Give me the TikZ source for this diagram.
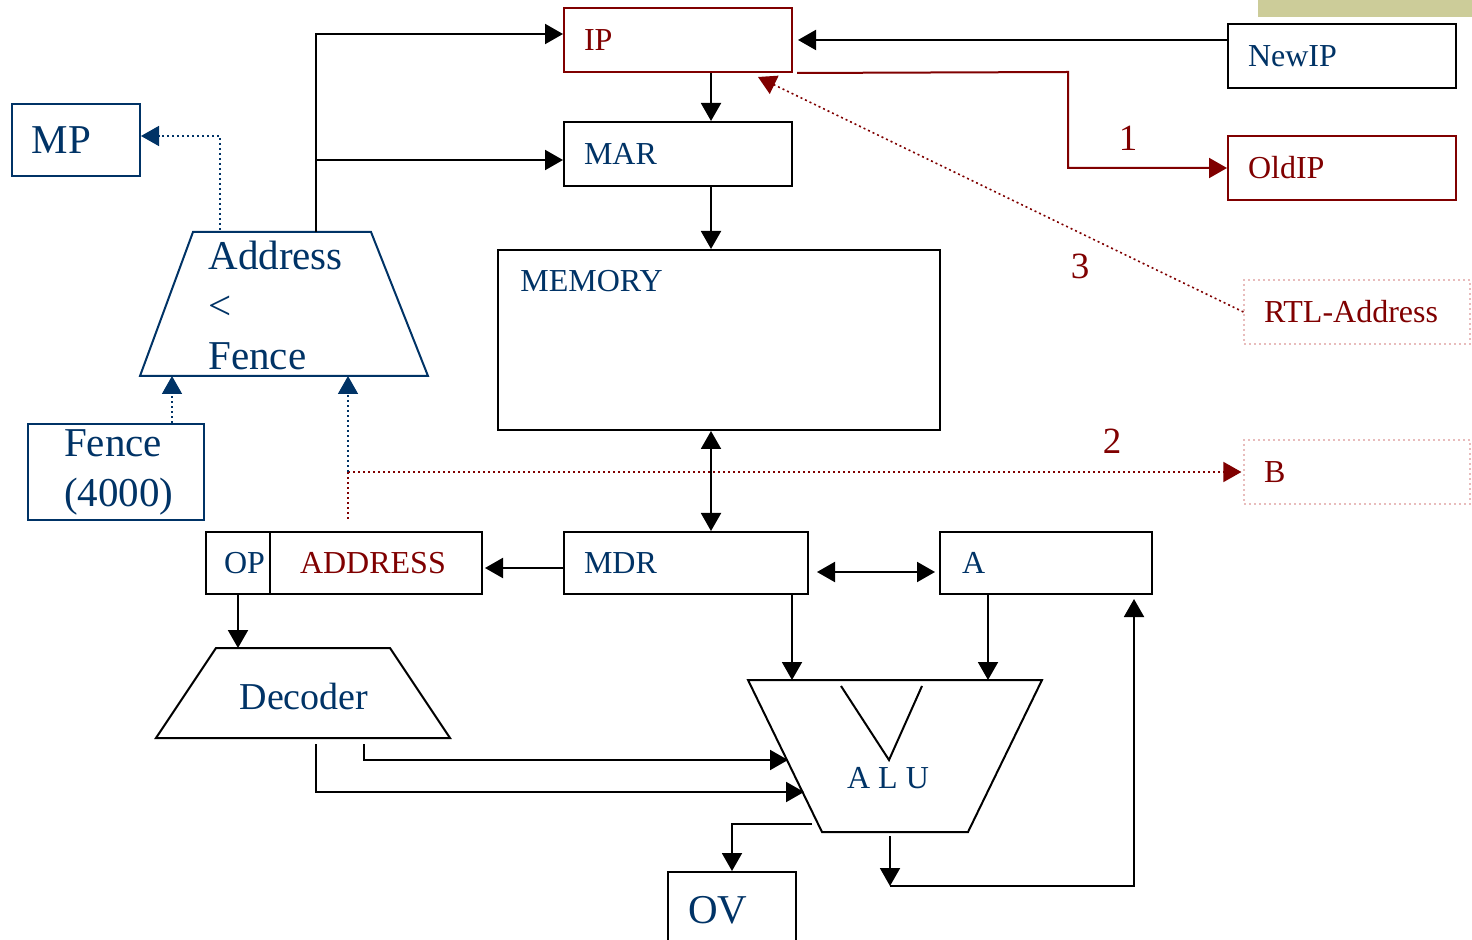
\documentclass[tikz,border=0pt]{standalone}
\usepackage{fontspec}
\setmainfont{Liberation Serif}
\usetikzlibrary{arrows.meta,positioning}

\definecolor{regblue}{RGB}{0,51,102}
\definecolor{ipred}{RGB}{128,0,0}
\definecolor{pinkdot}{RGB}{232,188,188}
\definecolor{barolive}{RGB}{204,204,153}

\newcommand{\regfont}{\fontsize{16}{19}\selectfont}
\newcommand{\decfont}{\fontsize{19}{23}\selectfont}
\newcommand{\bigfont}{\fontsize{20.5}{25}\selectfont}
\newcommand{\numfont}{\fontsize{18.5}{22}\selectfont}

\begin{document}
\begin{tikzpicture}[x=0.5pt, y=-0.5pt,
  reg/.style={draw, line width=1pt, rectangle, inner xsep=10pt, inner ysep=0pt,
              align=left, minimum height=32pt, font=\regfont, text=regblue},
  redreg/.style={reg, draw=ipred, text=ipred},
  bluereg/.style={reg, draw=regblue, font=\bigfont},
  tagbox/.style={reg, draw=pinkdot, line width=0.6pt, dash pattern=on 1pt off 1.5pt, text=ipred},
  lbl/.style={inner sep=0pt, font=\regfont, text=regblue},
  unit/.style={draw, line width=1pt, line join=miter},
  arr/.style={-{Triangle[length=9pt,width=10pt]}, line width=1pt},
  darr/.style={{Triangle[length=9pt,width=10pt]}-{Triangle[length=9pt,width=10pt]}, line width=1pt},
  redarr/.style={arr, draw=ipred},
  bdot/.style={-{Triangle[length=9pt,width=10pt]}, draw=regblue, line width=0.8pt, dash pattern=on 1pt off 1.5pt},
  rdot/.style={draw=ipred, line width=0.8pt, dash pattern=on 1pt off 1.5pt},
  num/.style={font=\numfont, text=ipred, inner sep=0pt},
]
\useasboundingbox (0,0) rectangle (1472,940);
\clip (0,0) rectangle (1472,940);
\fill[white] (0,0) rectangle (1472,940);
\fill[barolive] (1258,0) rectangle (1472,17);

%% ── REGISTERS (top) ──────────────────────────────────────────────────────────
\node[redreg, text width=94pt] (ip)    at (678,40)   {IP};
\node[reg,    text width=94pt] (mar)   at (678,154)  {MAR};
\node[reg,    text width=94pt] (newip) at (1342,56)  {NewIP};
\node[redreg, text width=94pt] (oldip) at (1342,168) {OldIP};
\node[tagbox, text width=93pt] (rtl)   at (1357,312) {RTL-Address};
\node[tagbox, text width=93pt] (bbox)  at (1357,472) {B};

%% ── MEMORY ───────────────────────────────────────────────────────────────────
\node[draw, line width=1pt, minimum width=221pt, minimum height=90pt] (mem) at (719,340) {};
\node[lbl, anchor=north west] (memtxt) at (520,270) {MEMORY};

%% ── REGISTERS (bottom) ───────────────────────────────────────────────────────
\node[reg, minimum height=31pt, text width=102pt] (mdr) at (686,563) {MDR};
\node[reg, minimum height=31pt, inner xsep=0pt, text width=32pt] (op) at (238,563) {\hspace*{9pt}OP};
\node[reg, minimum height=31pt, inner xsep=15pt, text width=76pt, text=ipred] (addr) at (376,563) {ADDRESS};
\node[reg, minimum height=31pt, inner xsep=11pt, text width=84pt] (abox) at (1046,563) {A};
\node[reg, font=\bigfont, minimum height=38pt, text width=44pt] (ov) at (732,910) {OV};

%% ── PROTECTION ───────────────────────────────────────────────────────────────
\node[bluereg, text width=44pt, minimum height=36pt] (mp) at (76,140) {MP};
\node[bluereg, inner xsep=0pt, text width=88pt, minimum height=48pt] (fence) at (116,472)
  {\hspace*{18pt}Fence\\\hspace*{18pt}(4000)};
\draw[unit, draw=regblue] (193,232) -- (371,232) -- (428,376) -- (140,376) coordinate (cmp-bl) -- cycle;
\node[lbl, font=\bigfont, align=left, anchor=north west] (cmptxt) at (208,241) {Address\\<\\Fence};

%% ── DECODER / ALU ────────────────────────────────────────────────────────────
\draw[unit] (216,648) -- (390,648) -- (450,738) -- (156,738) -- cycle;
\node[lbl, font=\decfont] (dectxt) at (304,697) {Decoder};
\draw[unit] (748,680) -- (1042,680) -- (968,832) -- (822,832) -- cycle;
\draw[unit] (841,686) -- (889,760) -- (922,686);
\node[lbl] (alutxt) at (888,778) {A L U};

\coordinate (cmp-top) at (316,232);
\coordinate (cmp-mp)  at (220,230);
\coordinate (dec-top) at (238,648);
\coordinate (dec-o1)  at (364,744);
\coordinate (dec-o2)  at (316,744);
\coordinate (alu-top) at (900,680);
\coordinate (alu-i1)  at (788,760);
\coordinate (alu-i2)  at (804,792);
\coordinate (alu-ov)  at (812,824);
\coordinate (alu-out) at (890,836);
\coordinate (alu-fb)  at (890,886);
\coordinate (ip-bend) at (1068,72);
\coordinate (split)   at (348,472);
\coordinate (ip-in)   at ([yshift=3pt]ip.west);
\coordinate (mar-in)  at ([yshift=-3pt]mar.west);
\coordinate (bus)     at ([xshift=16.5pt]mar.south);
\coordinate (mdr-out) at ([yshift=-2.5pt]mdr.west);
\coordinate (mdr-alu) at ([xshift=53pt]mdr.south);
\coordinate (a-alu)   at ([xshift=-29pt]abox.south);
\coordinate (fence-up) at ([xshift=28pt]fence.north);

%% ── DATA PATHS ───────────────────────────────────────────────────────────────
\draw[arr] ([yshift=8pt]newip.west) -- ([xshift=2.5pt]ip.east);
\draw[arr] (cmp-top) |- (ip-in);
\draw[arr] (mar-in -| cmp-top) -- (mar-in);
\draw[arr] ([xshift=16.5pt]ip.south) -- ([xshift=16.5pt]mar.north);
\draw[arr] (bus) -- (bus |- mem.north);
\draw[darr] (bus |- mem.south) -- (bus |- mdr.north);
\draw[arr] (mdr-out) -- ([xshift=1pt]mdr-out -| addr.east);
\draw[darr] ([xshift=4pt,yshift=-4.5pt]mdr.east) -- ([xshift=-2pt,yshift=-4.5pt]abox.west);
\draw[arr] (mdr-alu) -- (mdr-alu |- alu-top);
\draw[arr] (a-alu) -- (a-alu |- alu-top);
\draw[arr] (op.south) -- (op.south |- dec-top);
\draw[arr] (dec-o1) |- (alu-i1);
\draw[arr] (dec-o2) |- (alu-i2);
\draw[arr] (alu-ov) -| (ov.north);
\draw[arr] (alu-out) -- (alu-fb);
\draw[arr] (alu-fb) -| ([xshift=44pt,yshift=-2pt]abox.south);

%% ── RTL PATHS (red) ──────────────────────────────────────────────────────────
\draw[redarr] ([xshift=2pt]ip.south east) -- (ip-bend) |- (oldip.west);
\node[num] (n1) at (1128,138) {1};
\draw[rdot, -{Triangle[length=9pt,width=10pt]}] (rtl.west) -- ([xshift=40pt,yshift=-2pt]ip.south);
\node[num] (n3) at (1080,266) {3};
\draw[rdot] ([xshift=-14pt,yshift=6pt]addr.north) -- (split);
\draw[rdot, -{Triangle[length=9pt,width=10pt]}] (split) -- ([xshift=-1pt]bbox.west);
\node[num] (n2) at (1112,441) {2};

%% ── FENCE CHECK (dotted blue) ────────────────────────────────────────────────
\draw[bdot] (cmp-mp) |- ([yshift=2pt]mp.east);
\draw[bdot] (fence-up) -- (fence-up |- cmp-bl);
\draw[bdot] (split) -- (split |- cmp-bl);
\end{tikzpicture}
\end{document}
